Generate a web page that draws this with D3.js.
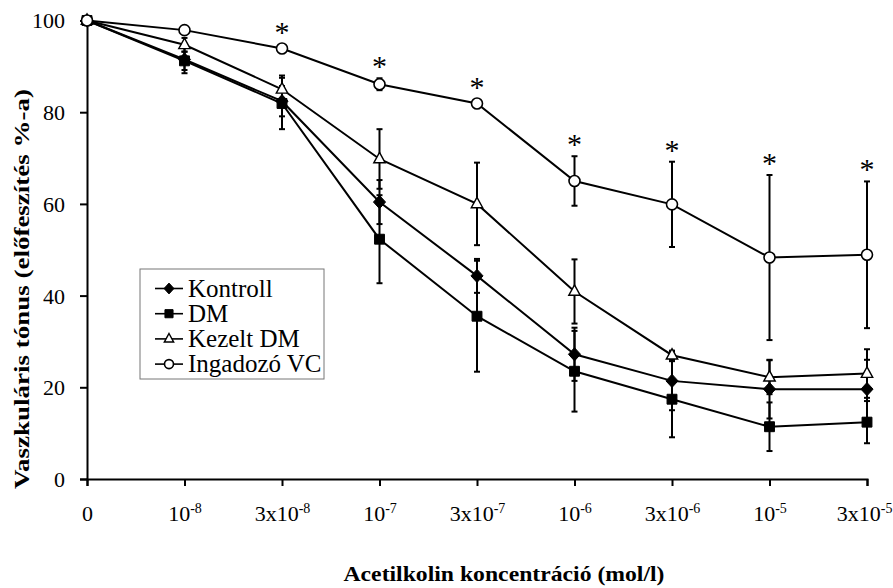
<!DOCTYPE html>
<html>
<head>
<meta charset="utf-8">
<script src="https://cdn.jsdelivr.net/npm/d3@7/dist/d3.min.js"></script>
<style>
  html, body { margin: 0; padding: 0; background: #fff; }
  svg { display: block; font-family: "Liberation Serif", "Times New Roman", serif; }
</style>
</head>
<body>
<svg id="chart" width="893" height="588"></svg>
<script>
// Acetylcholine concentrations (x categories), drawn as base + superscript exponent
const concentrations = ["0", "1e-8", "3e-8", "1e-7", "3e-7", "1e-6", "3e-6", "1e-5", "3e-5"];
const tickBase = ["0", "10", "3x10", "10", "3x10", "10", "3x10", "10", "3x10"];
const tickExp  = ["",  "-8", "-8",   "-7", "-7",   "-6", "-6",   "-5", "-5"];
const yTicks = [0, 20, 40, 60, 80, 100];

// Vascular tone (% of pre-contraction), mean and error per concentration
const kontroll     = [100, 91.5, 82.4, 60.4, 44.3, 27.2, 21.4, 19.6, 19.6];
const kontrollErr  = [0, 3.0, 3.3, 4.8, 3.7, 5.8, 6.4, 6.4, 6.4];
const dm           = [100, 91.2, 81.9, 52.3, 35.5, 23.5, 17.4, 11.4, 12.4];
const dmErr        = [0, 2.0, 5.6, 9.6, 12.1, 8.8, 8.3, 5.3, 4.6];
const kezeltDm     = [100, 94.7, 85.0, 69.8, 60.0, 40.9, 27.0, 22.2, 23.0];
const kezeltDmErr  = [0, 1.5, 3.0, 6.5, 9.0, 7.0, 1.0, 3.7, 5.3];
const ingadozoVc   = [100, 97.9, 93.9, 86.1, 81.9, 65.0, 59.9, 48.3, 48.9];
const ingadozoVcErr= [0, 0.5, 0.6, 1.3, 0.6, 5.4, 9.3, 18.0, 16.0];
// significance markers (*) for Ingadozó VC
const significant  = [false, false, true, true, true, true, true, true, true];

const seriesNames = ["Kontroll", "DM", "Kezelt DM", "Ingadozó VC"];
const seriesSymbols = ["diamond", "square", "triangle", "circle"];

const series = [
  { name: seriesNames[0], values: kontroll,   err: kontrollErr,   symbol: seriesSymbols[0] },
  { name: seriesNames[1], values: dm,         err: dmErr,         symbol: seriesSymbols[1] },
  { name: seriesNames[2], values: kezeltDm,   err: kezeltDmErr,   symbol: seriesSymbols[2] },
  { name: seriesNames[3], values: ingadozoVc, err: ingadozoVcErr, symbol: seriesSymbols[3] }
];

const W = 893;
const svg = d3.select("#chart");
const FONT = "Liberation Serif";

const x = d3.scalePoint().domain(concentrations).range([87, 867]).padding(0);
const y = d3.scaleLinear().domain([0, 100]).range([479, 20.5]);

// Marker shapes
function markerPath(symbol, size) {
  const s = size;
  if (symbol === "diamond") return `M0,${-s*0.6}L${s*0.55},0L0,${s*0.6}L${-s*0.55},0Z`;
  if (symbol === "square") return `M${-s*0.45},${-s*0.45}H${s*0.45}V${s*0.45}H${-s*0.45}Z`;
  if (symbol === "triangle") return `M0,${-s*0.6}L${s*0.52},${s*0.35}L${-s*0.52},${s*0.35}Z`;
  return null;
}
function drawMarker(g, symbol, size) {
  if (symbol === "circle") {
    g.append("circle").attr("r", size * 0.5)
      .attr("fill", "#fff").attr("stroke", "#000").attr("stroke-width", 1.6);
  } else {
    const filled = symbol !== "triangle";
    g.append("path").attr("d", markerPath(symbol, size))
      .attr("fill", filled ? "#000" : "#fff")
      .attr("stroke", "#000").attr("stroke-width", filled ? 1 : 1.4);
  }
}

// Axes
const yAxis = d3.axisLeft(y).tickValues(yTicks).tickSize(7).tickPadding(15);
const gy = svg.append("g").attr("transform", `translate(${x(concentrations[0])},0)`).call(yAxis)
  .attr("font-family", FONT).attr("font-size", 22);
gy.select(".domain").attr("stroke", "#000").attr("stroke-width", 2);
gy.selectAll(".tick line").attr("stroke", "#000").attr("stroke-width", 2);
gy.selectAll(".tick text").attr("fill", "#000").attr("dy", "0.34em");

const xAxis = d3.axisBottom(x).tickSize(7).tickFormat("");
const gx = svg.append("g").attr("transform", `translate(0,${y(0)})`).call(xAxis)
  .attr("font-family", FONT).attr("font-size", 22);
gx.select(".domain").attr("stroke", "#000").attr("stroke-width", 2);
gx.selectAll(".tick line").attr("stroke", "#000").attr("stroke-width", 2);
gx.selectAll(".tick").each(function(d, i) {
  const t = d3.select(this).append("text")
    .attr("y", 42).attr("text-anchor", "middle").attr("fill", "#000");
  t.append("tspan").text(tickBase[i]);
  if (tickExp[i]) {
    t.append("tspan").attr("font-size", 14).attr("dy", -8).text(tickExp[i]);
  }
  // keep the label inside the drawing area
  const box = this.getBBox ? t.node().getBBox() : null;
  const cx = x(d);
  if (box && cx + box.x + box.width > W - 1) {
    t.attr("x", (W - 1) - (cx + box.x + box.width));
  }
});

// Axis titles
svg.append("text")
  .attr("transform", `translate(29,289) rotate(-90)`)
  .attr("text-anchor", "middle").attr("font-weight", "bold").attr("font-size", 22)
  .attr("textLength", 400).attr("lengthAdjust", "spacingAndGlyphs")
  .text("Vaszkuláris tónus (előfeszítés %-a)");

svg.append("text")
  .attr("x", 504).attr("y", 581)
  .attr("text-anchor", "middle").attr("font-weight", "bold").attr("font-size", 22)
  .attr("textLength", 321).attr("lengthAdjust", "spacingAndGlyphs")
  .text("Acetilkolin koncentráció (mol/l)");

// Series
const line = d3.line().x((d, i) => x(concentrations[i])).y(d => y(d));
const capW = 3;

series.forEach(s => {
  const g = svg.append("g");
  // error bars
  s.values.forEach((v, i) => {
    const e = s.err[i];
    if (!e) return;
    const cx = x(concentrations[i]);
    g.append("line").attr("x1", cx).attr("x2", cx)
      .attr("y1", y(v + e)).attr("y2", y(v - e))
      .attr("stroke", "#000").attr("stroke-width", 2);
    [v + e, v - e].forEach(b => {
      g.append("line").attr("x1", cx - capW).attr("x2", cx + capW)
        .attr("y1", y(b)).attr("y2", y(b))
        .attr("stroke", "#000").attr("stroke-width", 2);
    });
  });
});

series.forEach(s => {
  const g = svg.append("g");
  g.append("path").datum(s.values).attr("d", line)
    .attr("fill", "none").attr("stroke", "#000").attr("stroke-width", 2);
  s.values.forEach((v, i) => {
    const m = g.append("g").attr("transform", `translate(${x(concentrations[i])},${y(v)})`);
    drawMarker(m, s.symbol, 11);
  });
});

// Significance stars above Ingadozó VC
ingadozoVc.forEach((v, i) => {
  if (!significant[i]) return;
  const top = Math.min(y(v + ingadozoVcErr[i]), y(v) - 4);
  svg.append("text")
    .attr("x", x(concentrations[i])).attr("y", top - 2)
    .attr("text-anchor", "middle").attr("font-size", 30)
    .text("*");
});

// Legend
const legend = svg.append("g").attr("transform", "translate(140,269)");
legend.append("rect").attr("width", 184).attr("height", 110)
  .attr("fill", "#fff").attr("stroke", "#777").attr("stroke-width", 1);
series.forEach((s, i) => {
  const cy = 19.5 + i * 25.2;
  const row = legend.append("g").attr("transform", `translate(0,${cy})`);
  row.append("line").attr("x1", 15).attr("x2", 43).attr("y1", 0).attr("y2", 0)
    .attr("stroke", "#000").attr("stroke-width", 1.6);
  const m = row.append("g").attr("transform", "translate(29,0)");
  drawMarker(m, s.symbol, 9);
  row.append("text").attr("x", 48).attr("y", 8).attr("font-size", 25).text(s.name);
});
</script>
</body>
</html>
